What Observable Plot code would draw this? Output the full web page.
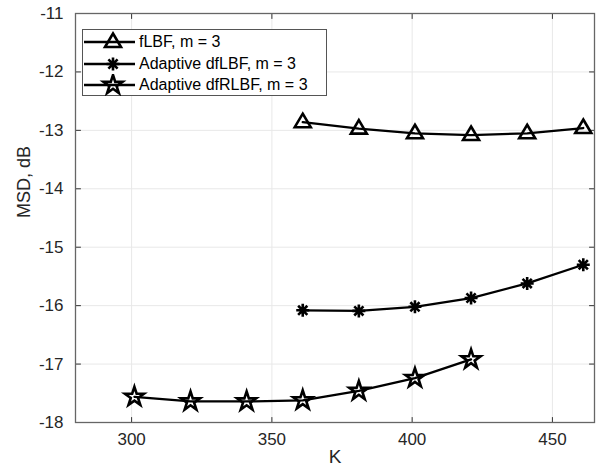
<!DOCTYPE html>
<html><head><meta charset="utf-8">
<script src="https://cdn.jsdelivr.net/npm/d3@7"></script>
<script src="https://cdn.jsdelivr.net/npm/@observablehq/plot@0.6"></script>
<style>
body{margin:0;background:#fff;font-family:"Liberation Sans",Arial,sans-serif;}
#wrap{position:relative;width:597px;height:467px;}
#legend{position:absolute;left:82px;top:29px;width:245px;height:67px;border:1px solid #555;background:#fff;box-sizing:border-box;}
#legend .row{position:absolute;left:0;height:22px;display:flex;align-items:center;}
#legend .row span{font-size:16px;color:#000;margin-left:1px;white-space:nowrap;}
</style></head><body><div id="wrap"><div id="legend"></div></div>
<script>
const K_fLBF = [361, 381, 401, 421, 441, 461];
const msd_fLBF = [-12.86, -12.97, -13.05, -13.08, -13.05, -12.96];
const K_dfLBF = [361, 381, 401, 421, 441, 461];
const msd_dfLBF = [-16.08, -16.09, -16.02, -15.87, -15.62, -15.30];
const K_dfRLBF = [301, 321, 341, 361, 381, 401, 421];
const msd_dfRLBF = [-17.56, -17.64, -17.64, -17.62, -17.46, -17.24, -16.92];
const seriesNames = ["fLBF, m = 3", "Adaptive dfLBF, m = 3", "Adaptive dfRLBF, m = 3"];
const xTicks = [300, 350, 400, 450];
const yTicks = [-18, -17, -16, -15, -14, -13, -12, -11];
const xLabel = "K";
const yLabel = "MSD, dB";

const triSym = {draw(c){c.moveTo(0,-8.5);c.lineTo(8,5);c.lineTo(-8,5);c.closePath();}};
const astSym = {draw(c){const r=6.5;for(let i=0;i<4;i++){const a=i*Math.PI/4;c.moveTo(-r*Math.cos(a),-r*Math.sin(a));c.lineTo(r*Math.cos(a),r*Math.sin(a));}}};
const starSym = {draw(c){const R=10,r=R*0.382;for(let i=0;i<10;i++){const a=-Math.PI/2+i*Math.PI/5;const rr=i%2?r:R;const x=rr*Math.cos(a),y=rr*Math.sin(a);if(i)c.lineTo(x,y);else c.moveTo(x,y);}c.closePath();}};
const symbols = [triSym, astSym, starSym];
const tickShape = {draw(c, l){c.moveTo(0,0);c.lineTo(0,-l);}};

const mk = (K, v, s) => K.map((k, i) => ({K: k, msd: v[i], s}));
const data = [
  ...mk(K_fLBF, msd_fLBF, seriesNames[0]),
  ...mk(K_dfLBF, msd_dfLBF, seriesNames[1]),
  ...mk(K_dfRLBF, msd_dfRLBF, seriesNames[2])
];

const tickOpts = {length: 5, anchor: "start", shape: tickShape, stroke: "#333", strokeWidth: 1};
const plot = Plot.plot({
  width: 597, height: 467,
  marginLeft: 75, marginRight: 3, marginTop: 13, marginBottom: 45,
  x: {domain: [280, 465], label: null},
  y: {domain: [-18, -11], label: null},
  style: {fontFamily: "Liberation Sans, Arial, sans-serif", fontSize: "17px", color: "#262626", background: "#fff", overflow: "visible"},
  marks: [
    Plot.gridX(xTicks, {stroke: "#e8e8e8", strokeOpacity: 1}),
    Plot.gridY(yTicks, {stroke: "#e8e8e8", strokeOpacity: 1}),
    Plot.axisX(xTicks, {anchor: "bottom", tickSize: 0, tickPadding: 10, fontSize: 17, label: null, color: "#262626"}),
    Plot.axisY(yTicks, {anchor: "left", tickSize: 0, tickPadding: 12, fontSize: 17, label: null, tickFormat: d => String(d).replace("−","-"), color: "#262626"}),
    Plot.vector(xTicks, {x: d => d, frameAnchor: "bottom", rotate: 0, ...tickOpts}),
    Plot.vector(xTicks, {x: d => d, frameAnchor: "top", rotate: 180, ...tickOpts}),
    Plot.vector(yTicks, {y: d => d, frameAnchor: "left", rotate: 90, ...tickOpts}),
    Plot.vector(yTicks, {y: d => d, frameAnchor: "right", rotate: -90, ...tickOpts}),
    Plot.frame({stroke: "#666", strokeWidth: 1.3}),
    Plot.line(data, {x: "K", y: "msd", z: "s", stroke: "#000", strokeWidth: 2.3}),
    ...seriesNames.map((n, i) => Plot.dot(data.filter(d => d.s === n), {x: "K", y: "msd", symbol: () => symbols[i], r: 1, stroke: "#000", strokeWidth: 2.6, fill: "none"})),
    Plot.text([xLabel], {frameAnchor: "bottom", dy: 40, fontSize: 19, fill: "#262626", text: d => d}),
    Plot.text([yLabel], {frameAnchor: "left", dx: -51, rotate: -90, fontSize: 18, fill: "#262626", text: d => d})
  ]
});
document.getElementById("wrap").prepend(plot);

// legend
const lg = d3.select("#legend");
seriesNames.forEach((n, i) => {
  const row = lg.append("div").attr("class", "row").style("top", (0.7 + i * 21.8) + "px");
  const svg = row.append("svg").attr("width", 55).attr("height", 22);
  svg.append("line").attr("x1", 1).attr("x2", 52).attr("y1", 11).attr("y2", 11).attr("stroke", "#000").attr("stroke-width", 2.3);
  const p = d3.path(); symbols[i].draw(p);
  svg.append("path").attr("d", p.toString()).attr("transform", "translate(30,11)").attr("fill", "none").attr("stroke", "#000").attr("stroke-width", 2.6);
  row.append("span").text(n);
});
</script></body></html>
